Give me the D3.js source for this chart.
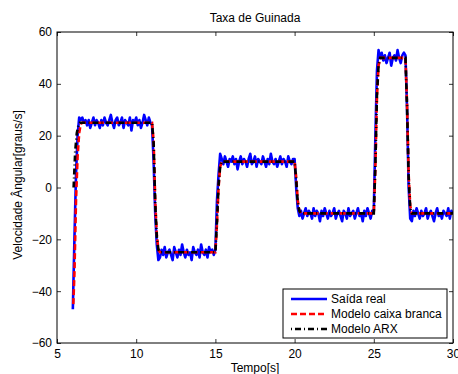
<!DOCTYPE html>
<html>
<head>
<meta charset="utf-8">
<script src="https://cdn.jsdelivr.net/npm/d3@7"></script>
<style>
  body { margin: 0; background: #fff; }
  text { font-family: "Liberation Sans", Arial, sans-serif; fill: #000; }
</style>
</head>
<body>
<div id="chart"></div>
<script>
// x ticks and y ticks
const xTicks = [5, 10, 15, 20, 25, 30];
const yTicks = [-60, -40, -20, 0, 20, 40, 60];

// measured output, sampled every 0.1 s from 6.0 s
const realStart = 6.0;
const realStep = 0.1;
const realValues = [
  -47, -20, 5, 20, 27, 26, 27, 25, 26, 24,
  26, 23, 25, 27, 24, 26, 25, 23, 26, 24,
  27, 25, 24, 26, 28, 25, 23, 26, 27, 24,
  25, 27, 23, 26, 25, 24, 27, 22, 26, 25,
  27, 24, 26, 23, 25, 28, 26, 24, 27, 25,
  24, 10, -10, -22, -28, -27, -24, -26, -23, -27,
  -25, -24, -26, -28, -23, -25, -27, -24, -26, -22,
  -25, -27, -24, -26, -25, -28, -23, -25, -26, -24,
  -27, -22, -25, -26, -24, -27, -23, -25, -24, -26,
  -24, -5, 5, 13, 11, 9, 12, 10, 8, 11,
  10, 12, 9, 11, 7, 10, 12, 9, 11, 10,
  8, 11, 13, 9, 10, 12, 8, 11, 10, 9,
  12, 10, 8, 11, 9, 13, 10, 9, 11, 8,
  10, 12, 9, 11, 10, 8, 12, 10, 9, 11,
  11, 0, -8, -11, -9, -12, -10, -8, -11, -9,
  -10, -12, -8, -11, -9, -10, -13, -9, -11, -8,
  -10, -12, -9, -11, -10, -8, -12, -10, -9, -11,
  -13, -9, -10, -12, -8, -11, -10, -9, -12, -10,
  -8, -11, -10, -13, -9, -11, -8, -10, -12, -9,
  -9, 20, 45, 53, 50, 52, 49, 51, 48, 50,
  52, 47, 50, 51, 49, 53, 50, 48, 51, 52,
  51, 30, 0, -12, -13, -9, -11, -8, -10, -12,
  -9, -11, -10, -8, -12, -10, -9, -11, -13, -10,
  -8, -11, -10, -12, -9, -10, -11, -8, -12, -9,
  -10
];

// white-box model
const whiteTimes = [6.03, 6.1, 6.2, 6.3, 6.4, 6.5, 6.6, 11.0, 11.1, 11.2, 11.3, 11.4, 11.5,
  15.0, 15.1, 15.2, 15.3, 15.4, 20.0, 20.1, 20.2, 20.3, 20.4,
  25.0, 25.1, 25.2, 25.3, 25.4, 27.0, 27.1, 27.2, 27.3, 27.4, 30.0];
const whiteValues = [-45, -33, -5, 12, 21, 24.5, 25, 25, 18, -5, -18, -24, -25,
  -25, -14, 0, 8, 10, 10, 4, -5, -9, -10,
  -10, 8, 35, 47, 50, 50, 32, 5, -7, -10, -10];

// ARX model
const arxTimes = [6.05, 6.15, 6.25, 6.35, 6.45, 6.6, 11.0, 11.1, 11.2, 11.3, 11.4, 11.5,
  15.0, 15.1, 15.2, 15.3, 15.4, 20.0, 20.1, 20.2, 20.3, 20.4,
  25.0, 25.1, 25.2, 25.3, 25.4, 27.0, 27.1, 27.2, 27.3, 27.4, 30.0];
const arxValues = [0, 14, 21, 24, 25, 25, 25, 17, -6, -19, -24, -25,
  -25, -13, 1, 8, 10, 10, 3, -6, -9, -10,
  -10, 9, 36, 47, 50, 50, 31, 4, -8, -10, -10];

const seriesNames = ['Saída real', 'Modelo caixa branca', 'Modelo ARX'];

const width = 458, height = 374;
const margin = { top: 32, right: 5, bottom: 31, left: 57 };
const innerWidth = width - margin.left - margin.right;
const innerHeight = height - margin.top - margin.bottom;
const fontSize = '12px';

const svg = d3.select('#chart').append('svg')
  .attr('width', width)
  .attr('height', height);

const g = svg.append('g')
  .attr('transform', `translate(${margin.left},${margin.top})`);

const x = d3.scaleLinear().domain([5, 30]).range([0, innerWidth]);
const y = d3.scaleLinear().domain([-60, 60]).range([innerHeight, 0]);

g.append('clipPath').attr('id', 'clip')
  .append('rect').attr('width', innerWidth).attr('height', innerHeight);

const line = d3.line().x(d => x(d[0])).y(d => y(d[1]));

const real = realValues.map((v, i) => [realStart + i * realStep, v]);
const white = whiteTimes.map((t, i) => [t, whiteValues[i]]);
const arx = arxTimes.map((t, i) => [t, arxValues[i]]);

const plot = g.append('g').attr('clip-path', 'url(#clip)');

plot.append('path').datum(real)
  .attr('d', line).attr('fill', 'none')
  .attr('stroke', '#0000ff').attr('stroke-width', 2.6)
  .attr('stroke-linejoin', 'round');

plot.append('path').datum(white)
  .attr('d', line).attr('fill', 'none')
  .attr('stroke', '#ff0000').attr('stroke-width', 2.6)
  .attr('stroke-dasharray', '6,3');

plot.append('path').datum(arx)
  .attr('d', line).attr('fill', 'none')
  .attr('stroke', '#000').attr('stroke-width', 2.6)
  .attr('stroke-dasharray', '6,3,1,3');

// axes with inward ticks
const axisStyle = sel => {
  sel.select('.domain').remove();
  sel.selectAll('.tick line').attr('stroke', '#000').attr('stroke-width', 0.8);
  sel.selectAll('.tick text').style('font-size', fontSize)
    .style('font-family', '"Liberation Sans", Arial, sans-serif');
  // mirrored axes carry no labels
  sel.selectAll('.tick text').filter(function () { return this.textContent === ''; }).remove();
};

g.append('g').attr('transform', `translate(0,${innerHeight})`)
  .call(d3.axisBottom(x).tickValues(xTicks).tickSizeInner(-4).tickPadding(6).tickSizeOuter(0))
  .call(axisStyle);

g.append('g')
  .call(d3.axisTop(x).tickValues(xTicks).tickSizeInner(-4).tickFormat('').tickSizeOuter(0))
  .call(axisStyle);

g.append('g')
  .call(d3.axisLeft(y).tickValues(yTicks).tickSizeInner(-4).tickPadding(5).tickSizeOuter(0)
    .tickFormat(d => d < 0 ? '\u2212' + Math.abs(d) : d))
  .call(axisStyle);

g.append('g').attr('transform', `translate(${innerWidth},0)`)
  .call(d3.axisRight(y).tickValues(yTicks).tickSizeInner(-4).tickFormat('').tickSizeOuter(0))
  .call(axisStyle);

g.append('rect')
  .attr('width', innerWidth).attr('height', innerHeight)
  .attr('fill', 'none').attr('stroke', '#000').attr('stroke-width', 1);

// title and labels
svg.append('text')
  .attr('x', margin.left + innerWidth / 2).attr('y', 22)
  .attr('text-anchor', 'middle').style('font-size', fontSize)
  .text('Taxa de Guinada');

svg.append('text')
  .attr('x', margin.left + innerWidth / 2).attr('y', 372)
  .attr('text-anchor', 'middle').style('font-size', fontSize)
  .text('Tempo[s]');

svg.append('text')
  .attr('transform', 'translate(22,185) rotate(-90)')
  .attr('text-anchor', 'middle').style('font-size', fontSize)
  .text('Velocidade Ângular[graus/s]');

// legend
const legend = svg.append('g').attr('transform', 'translate(283,289)');
legend.append('rect')
  .attr('width', 164).attr('height', 49)
  .attr('fill', '#fff').attr('stroke', '#000').attr('stroke-width', 1);

const legendStyles = [
  { stroke: '#0000ff', dash: null },
  { stroke: '#ff0000', dash: '6,3' },
  { stroke: '#000', dash: '1,3,6,3' }
];

seriesNames.forEach((name, i) => {
  const row = legend.append('g').attr('transform', `translate(0,${10 + i * 15})`);
  row.append('line')
    .attr('x1', 8).attr('x2', 44)
    .attr('stroke', legendStyles[i].stroke).attr('stroke-width', 2.6)
    .attr('stroke-dasharray', legendStyles[i].dash);
  row.append('text')
    .attr('x', 48).attr('y', 4)
    .style('font-size', fontSize)
    .text(name);
});
</script>
</body>
</html>
